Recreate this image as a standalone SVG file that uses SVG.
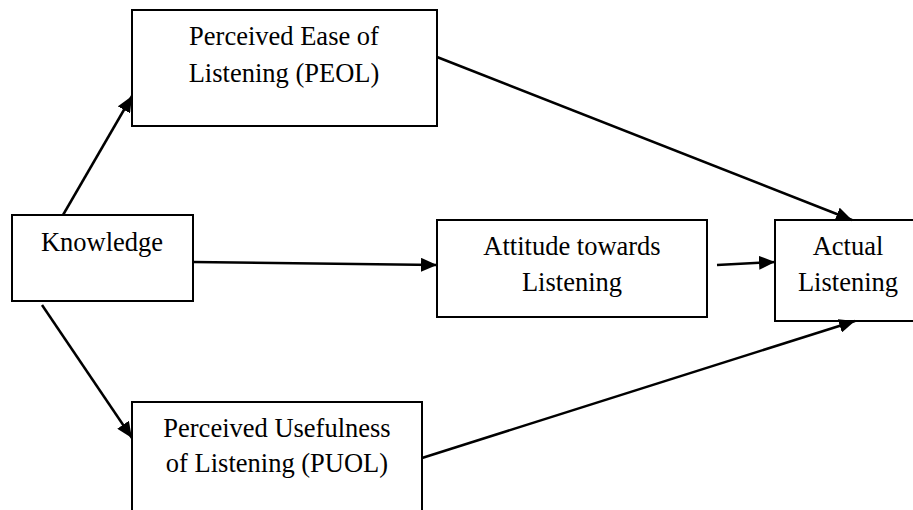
<svg xmlns="http://www.w3.org/2000/svg" width="913" height="510" viewBox="0 0 913 510">
<defs>
<style>
.box{fill:#fff;stroke:#000;stroke-width:2}
.lbl{font-family:"Liberation Serif","Times New Roman","DejaVu Serif",serif;font-size:26.5px;fill:#000;text-anchor:middle}
.edge{stroke:#000;stroke-width:2.5;fill:none;marker-end:url(#ah)}
</style>
<marker id="ah" markerUnits="userSpaceOnUse" markerWidth="18" markerHeight="14" refX="16" refY="7" orient="auto">
<path d="M0,0 L16,7 L0,14 Z" fill="#000"/>
</marker>
</defs>
<rect width="913" height="510" fill="#fff"/>
<g id="n-knowledge">
<rect class="box" x="12" y="215" width="181" height="86"/>
<text class="lbl" x="102" y="251">Knowledge</text>
</g>
<g id="n-peol">
<rect class="box" x="132" y="10" width="305" height="116"/>
<text class="lbl" x="284" y="45">Perceived Ease of</text>
<text class="lbl" x="284" y="82">Listening (PEOL)</text>
</g>
<g id="n-attitude">
<rect class="box" x="437" y="220" width="270" height="97"/>
<text class="lbl" x="572" y="255">Attitude towards</text>
<text class="lbl" x="572" y="291">Listening</text>
</g>
<g id="n-actual">
<rect class="box" x="775" y="220" width="145" height="101"/>
<text class="lbl" x="848" y="255">Actual</text>
<text class="lbl" x="848" y="291">Listening</text>
</g>
<g id="n-puol">
<rect class="box" x="132" y="402" width="290" height="120"/>
<text class="lbl" x="277" y="437">Perceived Usefulness</text>
<text class="lbl" x="277" y="472">of Listening (PUOL)</text>
</g>
<g id="connectors">
<line class="edge" x1="63" y1="215" x2="132" y2="96"/>
<line class="edge" x1="42" y1="305" x2="132" y2="438"/>
<line class="edge" x1="193" y1="262" x2="437" y2="265"/>
<line class="edge" x1="717" y1="265" x2="775" y2="262"/>
<line class="edge" x1="437" y1="57" x2="852" y2="220"/>
<line class="edge" x1="422" y1="458" x2="855" y2="321"/>
</g>
</svg>
